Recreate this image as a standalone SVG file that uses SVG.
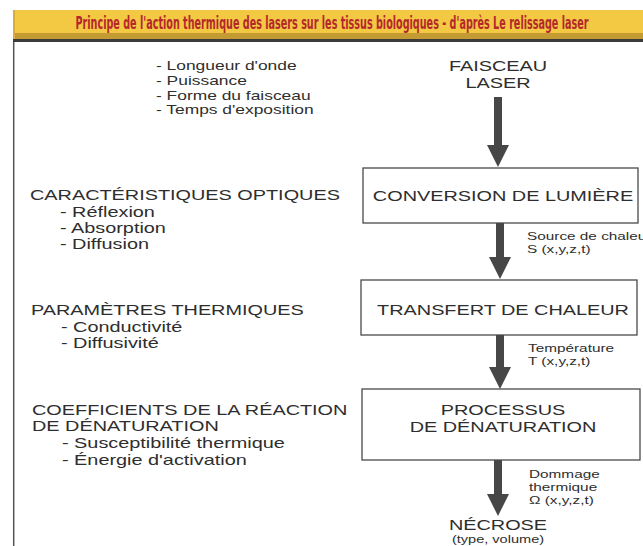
<svg xmlns="http://www.w3.org/2000/svg" width="643" height="546" viewBox="0 0 643 546">
<defs>
<marker id="head" markerUnits="userSpaceOnUse" viewBox="0 0 22 22" markerWidth="22" markerHeight="22" refX="0" refY="11" orient="auto">
<path d="M0,0 L22,11 L0,22 z" fill="#474747"/>
</marker>
<style>
text{font-family:"Liberation Sans",Arial,sans-serif;fill:#2e2e2e}
.h{font-size:14.5px}
.s{font-size:12.7px}
.l{font-size:11.2px}
.m{text-anchor:middle}
.box{fill:#fff;stroke:#4a4a4a;stroke-width:1.3}
.arr{stroke:#474747;stroke-width:8;fill:none;marker-end:url(#head)}
</style>
</defs>
<rect width="643" height="546" fill="#fff"/>
<g id="title">
<rect x="13" y="10" width="630" height="24" fill="#f3c944"/>
<rect x="13" y="33" width="630" height="6" fill="#c49a33"/>
<rect x="13" y="39" width="630" height="3" fill="#3b3b3b"/>
<rect x="13" y="10" width="2" height="29" fill="#d8ad3a"/>
<text x="332" y="29" text-anchor="middle" textLength="513" lengthAdjust="spacingAndGlyphs" style="font-family:'Liberation Sans Narrow','DejaVu Sans Condensed','Liberation Sans',sans-serif;font-weight:bold;font-size:17.5px;fill:#b5272b">Principe de l'action thermique des lasers sur les tissus biologiques - d'après Le relissage laser</text>
</g>
<line x1="13.7" y1="42" x2="13.7" y2="546" stroke="#555" stroke-width="1.5"/>
<g id="parametres-laser">
<text class="s" transform="translate(156,70) scale(1.37,1)">- Longueur d'onde</text>
<text class="s" transform="translate(156,85) scale(1.37,1)">- Puissance</text>
<text class="s" transform="translate(156,100) scale(1.37,1)">- Forme du faisceau</text>
<text class="s" transform="translate(156,114) scale(1.37,1)">- Temps d'exposition</text>
</g>
<g id="faisceau-laser">
<text class="h m" transform="translate(498,71) scale(1.37,1)">FAISCEAU</text>
<text class="h m" transform="translate(498,88) scale(1.37,1)">LASER</text>
</g>
<g id="caracteristiques-optiques">
<text class="h" transform="translate(30,200) scale(1.37,1)">CARACTÉRISTIQUES OPTIQUES</text>
<text class="h" transform="translate(60,217) scale(1.37,1)">- Réflexion</text>
<text class="h" transform="translate(60,233) scale(1.37,1)">- Absorption</text>
<text class="h" transform="translate(60,249) scale(1.37,1)">- Diffusion</text>
</g>
<g id="parametres-thermiques">
<text class="h" transform="translate(31,315) scale(1.37,1)">PARAMÈTRES THERMIQUES</text>
<text class="h" transform="translate(61,332) scale(1.37,1)">- Conductivité</text>
<text class="h" transform="translate(61,348) scale(1.37,1)">- Diffusivité</text>
</g>
<g id="coefficients">
<text class="h" transform="translate(32,415) scale(1.37,1)">COEFFICIENTS DE LA RÉACTION</text>
<text class="h" transform="translate(32,431) scale(1.37,1)">DE DÉNATURATION</text>
<text class="h" transform="translate(62,448) scale(1.37,1)">- Susceptibilité thermique</text>
<text class="h" transform="translate(62,465) scale(1.37,1)">- Énergie d'activation</text>
</g>
<g id="conversion">
<rect class="box" x="363" y="168" width="275" height="55"/>
<text class="h m" transform="translate(503,201) scale(1.37,1)">CONVERSION DE LUMIÈRE</text>
</g>
<g id="transfert">
<rect class="box" x="361" y="280" width="276" height="55"/>
<text class="h m" transform="translate(503,315) scale(1.37,1)">TRANSFERT DE CHALEUR</text>
</g>
<g id="processus">
<rect class="box" x="362" y="389" width="278" height="71"/>
<text class="h m" transform="translate(503,415) scale(1.37,1)">PROCESSUS</text>
<text class="h m" transform="translate(503,432) scale(1.37,1)">DE DÉNATURATION</text>
</g>
<g id="necrose">
<text class="h m" transform="translate(498,530) scale(1.37,1)">NÉCROSE</text>
<text class="l m" transform="translate(498,543) scale(1.3,1)">(type, volume)</text>
</g>
<g id="connectors">
<line class="arr" x1="498" y1="97" x2="498" y2="145"/>
<line class="arr" x1="500" y1="223" x2="500" y2="257"/>
<line class="arr" x1="500" y1="335" x2="500" y2="367"/>
<line class="arr" x1="498" y1="460" x2="498" y2="494"/>
<text class="l" transform="translate(527,240) scale(1.37,1)">Source de chaleur</text>
<text class="l" transform="translate(527,253) scale(1.37,1)">S (x,y,z,t)</text>
<text class="l" transform="translate(528,352) scale(1.37,1)">Température</text>
<text class="l" transform="translate(528,365) scale(1.37,1)">T (x,y,z,t)</text>
<text class="l" transform="translate(529,478) scale(1.37,1)">Dommage</text>
<text class="l" transform="translate(529,491) scale(1.37,1)">thermique</text>
<text class="l" transform="translate(529,504) scale(1.37,1)">Ω (x,y,z,t)</text>
</g>
</svg>
